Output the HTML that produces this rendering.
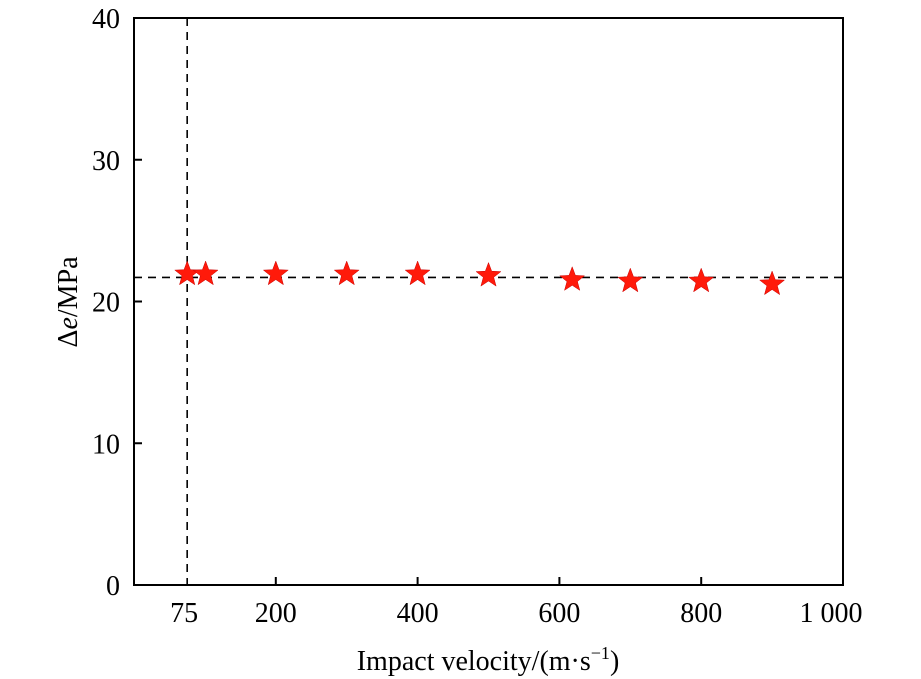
<!DOCTYPE html>
<html><head><meta charset="utf-8"><style>
body{margin:0;background:#fff;}
svg{display:block;font-family:"Liberation Serif",serif;}
</style></head><body>
<svg id="c" width="921" height="679"></svg>
<script>
const xValues=[75,101,200,300,400,500,618,700,800,900];
const yValues=[22.0,22.0,22.0,22.0,22.0,21.9,21.6,21.5,21.5,21.3];
const xTicks=[200,400,600,800];
const xTickLabels=[{v:75,t:"75"},{v:200,t:"200"},{v:400,t:"400"},{v:600,t:"600"},{v:800,t:"800"},{v:1000,t:"1 000"}];
const yTicks=[0,10,20,30,40];
const refY=21.7, refX=75;
const L=134,R=843,T=18,B=585;
const xs=v=>L+v*(R-L)/1000;
const ys=v=>B-v*(B-T)/40;
const svg=document.getElementById('c');
const NS='http://www.w3.org/2000/svg';
function mk(tag,attrs,parent){const e=document.createElementNS(NS,tag);for(const k in attrs)e.setAttribute(k,attrs[k]);(parent||svg).appendChild(e);return e;}
let e;
e=mk('rect',{x:L,y:T,width:R-L,height:B-T,fill:'none',stroke:'#000','stroke-width':2});

e=mk('line',{x1:L,x2:R,y1:ys(refY),y2:ys(refY),stroke:'#000','stroke-width':1.6,'stroke-dasharray':'8,6'});

e=mk('line',{x1:xs(refX),x2:xs(refX),y1:T,y2:B,stroke:'#000','stroke-width':1.6,'stroke-dasharray':'8,6'});

xTicks.forEach(v=>{e=mk('line',{x1:xs(v),x2:xs(v),y1:B,y2:B-8,stroke:'#000','stroke-width':2});
});
xTickLabels.forEach(o=>{e=mk('text',{x:xs(o.v)-(o.v===1000?12:(o.v===75?3:0)),y:B+37,'text-anchor':'middle','font-size':28});e.textContent=o.t;
});
yTicks.forEach(v=>{if(v>0&&v<40){e=mk('line',{x1:L,x2:L+8,y1:ys(v),y2:ys(v),stroke:'#000','stroke-width':2});
}
e=mk('text',{x:L-14,y:ys(v)+10,'text-anchor':'end','font-size':28});e.textContent=v;
});
function star(cx,cy,r){let p=[];for(let i=0;i<10;i++){const a=-Math.PI/2+i*Math.PI/5;const rr=i%2?r*0.42:r;p.push((cx+rr*Math.cos(a)).toFixed(1)+','+(cy+rr*Math.sin(a)).toFixed(1));}return p.join(' ');}
xValues.forEach((v,i)=>{e=mk('polygon',{points:star(xs(v),ys(yValues[i])+1,13),fill:'#ff1a0a',stroke:'#c00','stroke-width':0.5});
});
e=mk('text',{x:488,y:670,'text-anchor':'middle','font-size':28});
e.innerHTML='Impact velocity/(m·s<tspan dy="-11" font-size="18">−1</tspan><tspan dy="11">)</tspan>';

e=mk('text',{x:0,y:0,'text-anchor':'middle','font-size':28,transform:'translate(77,302) rotate(-90)'});
e.innerHTML='Δ<tspan font-style="italic">e</tspan>/MPa';

</script>
</body></html>
